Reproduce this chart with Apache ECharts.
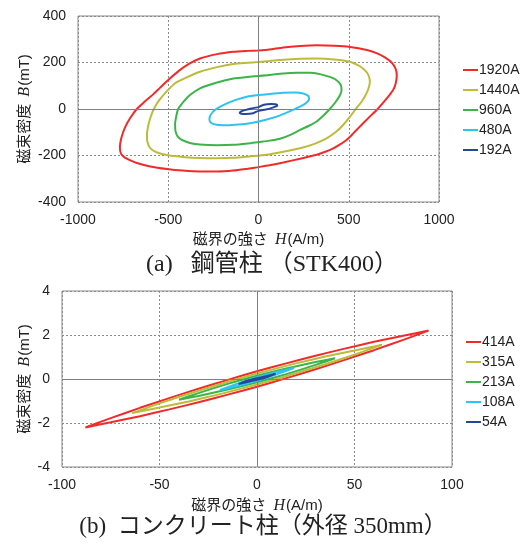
<!DOCTYPE html>
<html>
<head>
<meta charset="utf-8">
<script src="https://cdn.jsdelivr.net/npm/echarts@6/dist/echarts.min.js"></script>
<style>
html,body{margin:0;padding:0;background:#fff;}
#c{width:526px;height:547px;}
</style>
</head>
<body>
<div id="c"></div>
<script>
// ---- chart (a) data: H (A/m), B (mT) ----
const topNames = ['1920A', '1440A', '960A', '480A', '192A'];
const topColors = ['#f22a2a', '#bcbc3a', '#3db449', '#2ec3f0', '#24479e'];
const topXTicks = [-1000, 1000, 500];
const topYTicks = [-400, 400, 200];
const loop1920 = [[0,252],[-60,250],[-139,246],[-230,236],[-324,217],[-390,192],[-440,165],[-500,125],[-545,92],[-582,64],[-630,32],[-674,0],[-710,-38],[-740,-80],[-760,-125],[-768,-165],[-762,-192],[-742,-208],[-710,-221],[-674,-232],[-600,-247],[-508,-258],[-420,-265],[-324,-269],[-230,-269],[-139,-265],[-60,-257],[0,-250],[60,-242],[137,-230],[230,-214],[322,-197],[370,-184],[414,-169],[452,-152],[488,-133],[525,-105],[561,-76],[610,-38],[660,0],[705,40],[745,81],[760,110],[766,145],[760,172],[740,198],[700,222],[654,240],[600,254],[506,267],[420,272],[322,274],[230,271],[137,265],[60,256],[0,252]];
const loop1440 = [[0,202],[-60,199],[-139,194],[-230,180],[-324,160],[-400,135],[-460,112],[-510,75],[-550,38],[-580,0],[-600,-40],[-612,-76],[-618,-110],[-616,-140],[-600,-168],[-565,-186],[-508,-198],[-420,-206],[-324,-211],[-230,-212],[-139,-210],[-50,-204],[45,-197],[137,-184],[230,-169],[310,-150],[377,-126],[430,-98],[469,-69],[505,-35],[539,0],[568,28],[590,55],[608,85],[617,117],[612,140],[598,160],[560,185],[506,203],[420,213],[322,217],[230,216],[137,212],[60,206],[0,202]];
const loop960 = [[0,142],[-60,138],[-139,131],[-230,114],[-324,89],[-380,60],[-416,31],[-445,0],[-456,-33],[-462,-65],[-460,-95],[-448,-118],[-425,-133],[-380,-146],[-324,-153],[-230,-156],[-139,-154],[-60,-148],[0,-142],[60,-136],[119,-128],[180,-110],[230,-90],[280,-72],[322,-54],[360,-28],[395,0],[425,28],[448,55],[460,80],[458,98],[448,112],[425,128],[395,138],[340,150],[285,156],[210,156],[137,153],[60,146],[0,142]];
const loop480 = [[0,60],[-65,53],[-130,38],[-195,17],[-240,-3],[-265,-25],[-272,-45],[-262,-60],[-230,-68],[-176,-70],[-110,-67],[-47,-61],[30,-48],[101,-33],[150,-18],[192,-4],[230,10],[260,24],[280,42],[276,56],[248,67],[200,71],[137,70],[60,65],[0,60]];
const loop192 = [[0,8],[-40,2],[-75,-5],[-98,-11],[-104,-16],[-95,-20],[-70,-21],[-30,-18],[0,-8],[40,-2],[75,5],[98,11],[104,16],[95,20],[70,21],[30,18],[0,8]];

// ---- chart (b) data: H (A/m), B (mT) ----
const botNames = ['414A', '315A', '213A', '108A', '54A'];
const botColors = ['#f22a2a', '#bcbc3a', '#3db449', '#2ec3f0', '#24479e'];
const botXTicks = [-100, 100, 50];
const botYTicks = [-4, 4, 2];
const loop414 = [[88,2.2],[75,1.97],[60,1.69],[45,1.38],[30,1.06],[15,0.71],[0,0.35],[-15,-0.04],[-30,-0.44],[-45,-0.87],[-60,-1.31],[-75,-1.78],[-88,-2.2],[-75,-1.97],[-60,-1.69],[-45,-1.38],[-30,-1.06],[-15,-0.71],[0,-0.35],[15,0.04],[30,0.44],[45,0.87],[60,1.31],[75,1.78],[88,2.2]];
const loop315 = [[64,1.55],[50,1.30],[35,1.02],[20,0.71],[0,0.25],[-20,-0.26],[-35,-0.67],[-50,-1.11],[-64,-1.55],[-50,-1.30],[-35,-1.02],[-20,-0.71],[0,-0.25],[20,0.26],[35,0.67],[50,1.11],[64,1.55]];
const loop213 = [[40,0.94],[30,0.77],[15,0.48],[0,0.15],[-15,-0.22],[-30,-0.64],[-40,-0.94],[-30,-0.77],[-15,-0.48],[0,-0.15],[15,0.22],[30,0.64],[40,0.94]];
const loop108 = [[19,0.5],[10,0.32],[0,0.08],[-10,-0.21],[-19,-0.5],[-10,-0.32],[0,-0.08],[10,0.21],[19,0.5]];
const loop54 = [[9.5,0.23],[5,0.14],[0,0.04],[-5,-0.08],[-9.5,-0.23],[-5,-0.14],[0,-0.04],[5,0.08],[9.5,0.23]];

const captionA = '(a)   鋼管柱 （STK400）';
const captionB = '(b)  コンクリート柱（外径 350mm）';
const xTitle = '磁界の強さ {i|H}(A/m)';
const yTitle = '磁束密度 {i|B}(mT)';

const topLoops = [loop1920, loop1440, loop960, loop480, loop192];
const botLoops = [loop414, loop315, loop213, loop108, loop54];

const SANS = '"Liberation Sans", Arial, "Noto Sans CJK JP", sans-serif';
const SERIF = '"Liberation Serif", "Noto Sans CJK JP", serif';
const gridGray = '#8a8a8a';

function valueAxis(gridIndex, ticks, name, nameGap, isY) {
  return {
    type: 'value', gridIndex: gridIndex,
    min: ticks[0], max: ticks[1], interval: ticks[2],
    name: name, nameLocation: 'middle', nameGap: nameGap,
    nameMoveOverlap: false,
    nameTextStyle: {
      color: '#222', fontSize: 15, fontFamily: SANS,
      rich: { i: { fontStyle: 'italic', fontFamily: '"Liberation Serif", serif', fontSize: 16, color: '#222', padding: [0, 1, 0, 3] } }
    },
    axisLine: { show: false, onZero: false },
    axisTick: { show: false },
    axisLabel: { color: '#222', fontSize: 14, fontFamily: SANS, margin: isY ? 12 : 11,
      formatter: function (v) { return String(v); } },
    splitLine: { show: true, lineStyle: { color: gridGray, type: [2, 2], width: 1 } }
  };
}

const zeroMark = {
  silent: true, symbol: 'none', animation: false,
  label: { show: false },
  lineStyle: { color: '#808080', type: 'solid', width: 1 },
  data: [{ xAxis: 0 }, { yAxis: 0 }]
};

const series = [];
topLoops.forEach(function (d, i) {
  const s = {
    name: topNames[i], type: 'line', xAxisIndex: 0, yAxisIndex: 0,
    data: d, showSymbol: false, symbol: 'none', smooth: 0.25,
    color: topColors[i], lineStyle: { width: 2, color: topColors[i] }, z: 3 + i
  };
  if (i === 0) s.markLine = zeroMark;
  series.push(s);
});
botLoops.forEach(function (d, i) {
  const s = {
    name: botNames[i], type: 'line', xAxisIndex: 1, yAxisIndex: 1,
    data: d, showSymbol: false, symbol: 'none', smooth: 0.15,
    color: botColors[i], lineStyle: { width: 2, color: botColors[i] }, z: 3 + i
  };
  if (i === 0) s.markLine = zeroMark;
  series.push(s);
});

function legend(names, left, top) {
  return {
    orient: 'vertical', left: left, top: top, data: names,
    icon: 'rect', itemWidth: 15, itemHeight: 2, itemGap: 0,
    selectedMode: false,
    textStyle: { color: '#222', fontSize: 14, fontFamily: SANS, lineHeight: 20, padding: [0, 0, 0, -4] }
  };
}

const chart = echarts.init(document.getElementById('c'), null, { renderer: 'canvas' });
chart.setOption({
  animation: false,
  backgroundColor: '#fff',
  grid: [
    { left: 78, right: 87, top: 16, height: 186, show: true, borderColor: gridGray, borderWidth: 1, backgroundColor: 'transparent', containLabel: false },
    { left: 62, right: 74, top: 291, height: 176, show: true, borderColor: gridGray, borderWidth: 1, backgroundColor: 'transparent', containLabel: false }
  ],
  xAxis: [
    valueAxis(0, topXTicks, xTitle, 30, false),
    valueAxis(1, botXTicks, xTitle, 31, false)
  ],
  yAxis: [
    valueAxis(0, topYTicks, yTitle, 45, true),
    valueAxis(1, botYTicks, yTitle, 29, true)
  ],
  legend: [legend(topNames, 458, 55), legend(botNames, 461, 327)],
  graphic: [
    { type: 'text', x: 272, y: 265, style: { text: captionA, font: '24px ' + SERIF, fill: '#222', align: 'center', verticalAlign: 'middle' } },
    { type: 'text', x: 263, y: 527, style: { text: captionB, font: '23px ' + SERIF, fill: '#222', align: 'center', verticalAlign: 'middle' } }
  ],
  series: series
});
</script>
</body>
</html>
